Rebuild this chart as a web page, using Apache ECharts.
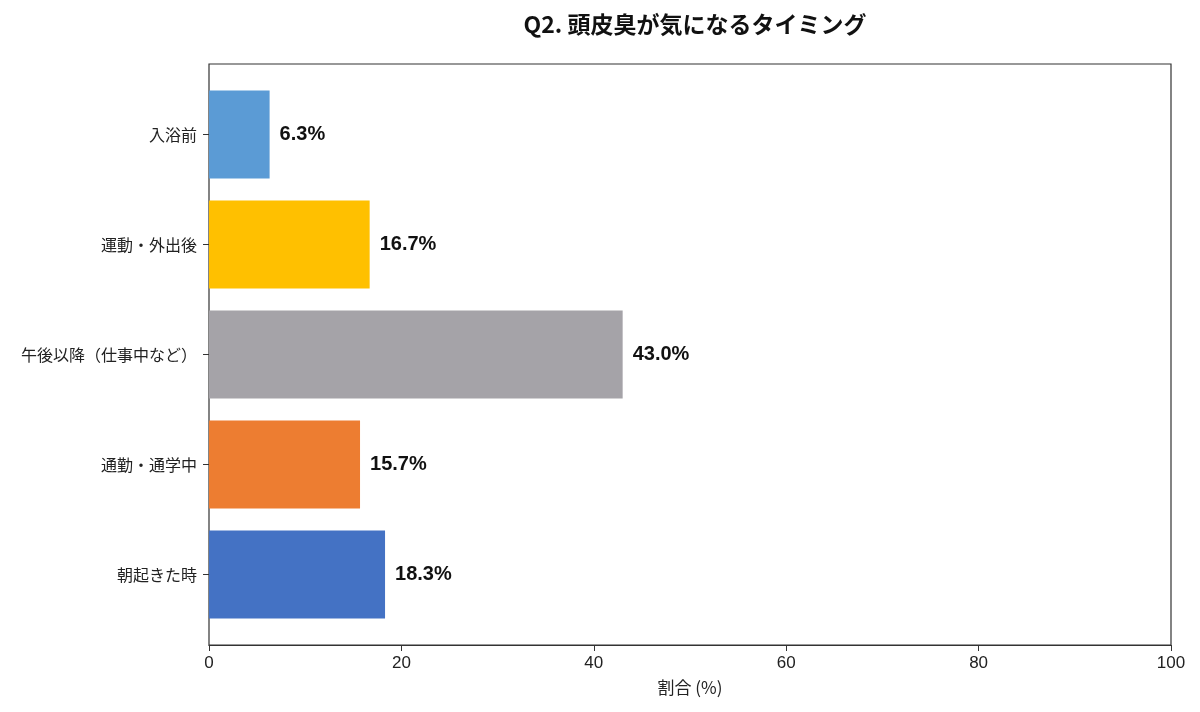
<!DOCTYPE html>
<html>
<head>
<meta charset="utf-8">
<script src="https://cdn.jsdelivr.net/npm/echarts@6/dist/echarts.min.js"></script>
<style>
  html, body { margin: 0; padding: 0; background: #fff; }
  #chart { width: 1200px; height: 712px; }
</style>
</head>
<body>
<div id="chart"></div>
<script>
// カテゴリ（上から順）
const categories = ['入浴前', '運動・外出後', '午後以降（仕事中など）', '通勤・通学中', '朝起きた時']
const values = [6.3, 16.7, 43.0, 15.7, 18.3]
const barColors = ['#5B9BD5', '#FFC000', '#A5A3A8', '#ED7D31', '#4472C4']
const xTicks = [0, 20, 40, 60, 80, 100]

const cjk = '"Noto Sans CJK JP", sans-serif'
const latin = '"Liberation Sans", "Noto Sans CJK JP", sans-serif'
const chart = echarts.init(document.getElementById('chart'))

chart.setOption({
  backgroundColor: '#fff',
  textStyle: { fontFamily: cjk },
  title: {
    text: 'Q2. 頭皮臭が気になるタイミング',
    left: 690,
    textAlign: 'center',
    top: 8,
    textStyle: { fontSize: 23, fontWeight: 'bold', color: '#111', fontFamily: cjk }
  },
  grid: [
    // 外枠とx軸
    { left: 209, right: 29, top: 64, bottom: 67, show: true, borderColor: '#333', borderWidth: 1.2 },
    // 棒グラフ（上下に余白）
    { left: 209, right: 29, top: 79.5, bottom: 82.5 }
  ],
  xAxis: [
    {
      gridIndex: 0,
      type: 'value',
      min: xTicks[0],
      max: xTicks[xTicks.length - 1],
      interval: 20,
      name: '割合 (%)',
      nameLocation: 'middle',
      nameGap: 34,
      nameTextStyle: { fontSize: 17, color: '#222', fontFamily: cjk },
      axisLine: { show: true, lineStyle: { color: '#333', width: 1.2 } },
      axisTick: { show: true, length: 6, lineStyle: { color: '#333' } },
      axisLabel: { fontSize: 17, color: '#222', margin: 10, fontFamily: latin },
      splitLine: { show: false }
    },
    {
      gridIndex: 1,
      type: 'value',
      min: xTicks[0],
      max: xTicks[xTicks.length - 1],
      show: false
    }
  ],
  yAxis: [
    { gridIndex: 0, type: 'value', show: false },
    {
      gridIndex: 1,
      type: 'category',
      data: categories,
      inverse: true,
      axisLine: { show: false },
      axisTick: { show: true, alignWithLabel: true, length: 6, lineStyle: { color: '#333' } },
      axisLabel: { fontSize: 16, color: '#222', margin: 12 }
    }
  ],
  series: [{
    type: 'bar',
    xAxisIndex: 1,
    yAxisIndex: 1,
    data: values.map((v, i) => ({ value: v, itemStyle: { color: barColors[i] } })),
    barCategoryGap: '20%',
    label: {
      show: true,
      position: 'right',
      distance: 10,
      formatter: p => p.value.toFixed(1) + '%',
      fontSize: 20,
      fontWeight: 'bold',
      color: '#111',
      fontFamily: latin
    }
  }]
})
</script>
</body>
</html>
